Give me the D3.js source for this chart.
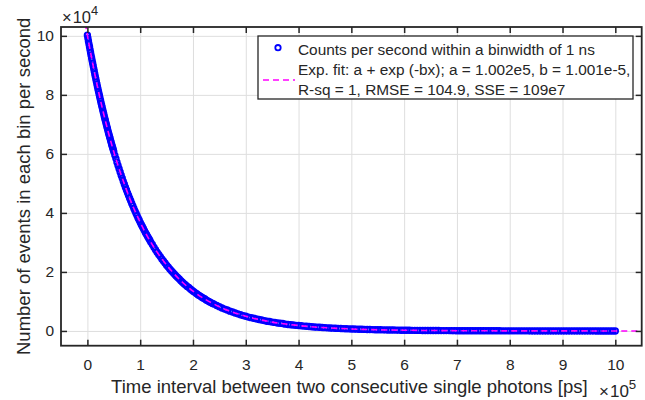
<!DOCTYPE html>
<html>
<head>
<meta charset="utf-8">
<script src="https://cdn.jsdelivr.net/npm/d3@7"></script>
<style>
  body { margin: 0; background: #fff; }
  svg text { font-family: "Liberation Sans", Arial, Helvetica, sans-serif; fill: #262626; }
</style>
</head>
<body>
<svg id="chart" width="645" height="400"></svg>
<script>
/* global d3 */
// measured counts, sampled off the picture (t in 1e5 ps, counts in 1e4 / s)
// each segment: first sample time, spacing between samples, values
const segStart = [0, 0.52, 1.23, 2.45]
const segStep = [0.01, 0.02, 0.03, 0.05]

const countsA = [10.02, 9.92, 9.82, 9.72, 9.63, 9.53, 9.44, 9.34, 9.25, 9.16,
  9.07, 8.98, 8.89, 8.80, 8.71, 8.62, 8.54, 8.45, 8.37, 8.28,
  8.20, 8.12, 8.04, 7.96, 7.88, 7.80, 7.72, 7.65, 7.57, 7.50,
  7.42, 7.35, 7.27, 7.20, 7.13, 7.06, 6.99, 6.92, 6.85, 6.78,
  6.71, 6.65, 6.58, 6.52, 6.45, 6.39, 6.32, 6.26, 6.20, 6.14, 6.07]
const countsB = [5.95, 5.84, 5.72, 5.61, 5.50, 5.39, 5.28, 5.18, 5.07, 4.97,
  4.87, 4.78, 4.68, 4.59, 4.50, 4.41, 4.32, 4.24, 4.15, 4.07,
  3.99, 3.91, 3.83, 3.76, 3.68, 3.61, 3.54, 3.47, 3.40, 3.33,
  3.27, 3.20, 3.14, 3.08, 3.01]
const countsC = [2.93, 2.84, 2.75, 2.67, 2.59, 2.52, 2.44, 2.37, 2.30, 2.23,
  2.17, 2.10, 2.04, 1.98, 1.92, 1.86, 1.81, 1.76, 1.70, 1.65,
  1.60, 1.56, 1.51, 1.47, 1.42, 1.38, 1.34, 1.30, 1.26, 1.22,
  1.19, 1.15, 1.12, 1.09, 1.05, 1.02, 0.99, 0.96, 0.93, 0.91]
const countsD = [0.86, 0.82, 0.78, 0.74, 0.71, 0.67, 0.64, 0.61, 0.58, 0.55, 0.52,
  0.50, 0.47, 0.45, 0.43, 0.41, 0.39, 0.37, 0.35, 0.33, 0.32,
  0.30, 0.29, 0.27, 0.26, 0.25, 0.23, 0.22, 0.21, 0.20, 0.19,
  0.183, 0.174, 0.165, 0.157, 0.150, 0.142, 0.135, 0.129, 0.123, 0.117,
  0.111, 0.105, 0.100, 0.095, 0.091, 0.086, 0.082, 0.078, 0.074, 0.071,
  0.067, 0.064, 0.061, 0.058, 0.055, 0.052, 0.050, 0.047, 0.045, 0.043,
  0.041, 0.039, 0.037, 0.035, 0.033, 0.032, 0.030, 0.029, 0.027, 0.026,
  0.025, 0.023, 0.022, 0.021, 0.020, 0.019, 0.018, 0.017, 0.017, 0.016,
  0.015, 0.014, 0.014, 0.013, 0.012, 0.012, 0.011, 0.011, 0.010, 0.010,
  0.0091, 0.0087, 0.0082, 0.0078, 0.0075, 0.0071, 0.0067, 0.0064, 0.0061, 0.0058,
  0.0055, 0.0052, 0.0050, 0.0047, 0.0045, 0.0043, 0.0041, 0.0039, 0.0037, 0.0035,
  0.0033, 0.0032, 0.0030, 0.0029, 0.0027, 0.0026, 0.0025, 0.0024, 0.0022, 0.0021,
  0.0020, 0.0019, 0.0018, 0.0017, 0.0017, 0.0016, 0.0015, 0.0014, 0.0014, 0.0013,
  0.0012, 0.0012, 0.0011, 0.0010, 0.0010, 0.0009, 0.0009, 0.0009, 0.0008, 0.0008,
  0.0007, 0.0007, 0.0007, 0.0006, 0.0006, 0.0006, 0.0005, 0.0005, 0.0005, 0.0005, 0.0004]
const segCounts = [countsA, countsB, countsC, countsD]

// exponential fit curve, read at a few times (runs past the axes, gets clipped)
const fitTimes = [-0.04, 0, 0.1, 0.2, 0.3, 0.4, 0.5, 0.6, 0.8, 1.0, 1.2, 1.4, 1.6, 1.8,
  2.0, 2.5, 3.0, 3.5, 4.0, 5.0, 6.0, 7.0, 8.0, 9.0, 10.0, 10.5]
const fitCounts = [10.43, 10.02, 9.07, 8.20, 7.42, 6.71, 6.07, 5.50, 4.50, 3.68, 3.01, 2.47, 2.02, 1.65,
  1.35, 0.82, 0.50, 0.30, 0.183, 0.067, 0.025, 0.009, 0.003, 0.0012, 0.0004, 0.0003]

const xTicks = [0, 1, 2, 3, 4, 5, 6, 7, 8, 9, 10]
const yTicks = [0, 2, 4, 6, 8, 10]

const legendLabels = [
  'Counts per second within a binwidth of 1 ns',
  'Exp. fit: a + exp (-bx); a = 1.002e5, b = 1.001e-5,',
  'R-sq = 1, RMSE = 104.9, SSE = 109e7'
]

const points = []
segStart.forEach((s, k) => {
  segCounts[k].forEach((c, i) => points.push({ t: s + i * segStep[k], c }))
})
const fitData = fitTimes.map((t, i) => ({ t, c: fitCounts[i] }))

const axisColor = '#262626'
const margin = { top: 27, right: 3.3, bottom: 54.3, left: 61 }
const W = 645
const H = 400
const width = W - margin.left - margin.right
const height = H - margin.top - margin.bottom

const x = d3.scaleLinear().domain([-0.5, 10.5]).range([0, width])
const y = d3.scaleLinear().domain([-0.5, 10.3]).range([height, 0])

const svg = d3.select('#chart')
const g = svg.append('g').attr('transform', `translate(${margin.left},${margin.top})`)

g.append('clipPath').attr('id', 'clip')
  .append('rect').attr('width', width).attr('height', height)

// grid
const gridX = g.append('g').attr('class', 'grid')
  .attr('transform', `translate(0,${height})`)
  .call(d3.axisBottom(x).tickValues(xTicks).tickSize(-height).tickFormat(''))
const gridY = g.append('g').attr('class', 'grid')
  .call(d3.axisLeft(y).tickValues(yTicks).tickSize(-width).tickFormat(''))
;[gridX, gridY].forEach(a => {
  a.select('.domain').remove()
  a.selectAll('line').attr('stroke', '#dedede').attr('stroke-width', 1)
})

// data markers
g.append('g').attr('clip-path', 'url(#clip)')
  .selectAll('circle')
  .data(points)
  .enter().append('circle')
  .attr('cx', d => x(d.t))
  .attr('cy', d => y(d.c))
  .attr('r', 2.7)
  .attr('fill', 'none')
  .attr('stroke', '#0000ff')
  .attr('stroke-width', 2)

// fit
const fitLine = d3.line()
  .x(d => x(d.t))
  .y(d => y(d.c))
  .curve(d3.curveMonotoneX)

g.append('path')
  .datum(fitData)
  .attr('clip-path', 'url(#clip)')
  .attr('d', fitLine)
  .attr('fill', 'none')
  .attr('stroke', '#ff00ff')
  .attr('stroke-width', 1.6)
  .attr('stroke-dasharray', '6,4')

// axes, ticks pointing inwards
const styleAxis = (a) => {
  a.select('.domain').remove()
  a.selectAll('line').attr('stroke', axisColor).attr('stroke-width', 1.5)
  a.selectAll('text').attr('font-size', '15.5px').attr('fill', axisColor)
}

g.append('g')
  .attr('transform', `translate(0,${height})`)
  .call(d3.axisBottom(x).tickValues(xTicks).tickSize(-6).tickPadding(13.3).tickSizeOuter(0))
  .call(styleAxis)
g.append('g')
  .call(d3.axisTop(x).tickValues(xTicks).tickSize(-6).tickFormat('').tickSizeOuter(0))
  .call(styleAxis)
g.append('g')
  .call(d3.axisLeft(y).tickValues(yTicks).tickSize(-6).tickPadding(7).tickSizeOuter(0))
  .call(styleAxis)
g.append('g')
  .attr('transform', `translate(${width},0)`)
  .call(d3.axisRight(y).tickValues(yTicks).tickSize(-6).tickFormat('').tickSizeOuter(0))
  .call(styleAxis)

g.append('rect')
  .attr('width', width).attr('height', height)
  .attr('fill', 'none')
  .attr('stroke', axisColor)
  .attr('stroke-width', 1.8)

// axis labels
g.append('text')
  .attr('x', width / 2 - 2)
  .attr('y', height + 47)
  .attr('text-anchor', 'middle')
  .attr('font-size', '18.5px')
  .text('Time interval between two consecutive single photons [ps]')

g.append('text')
  .attr('transform', `translate(${30 - margin.left},${height / 2}) rotate(-90)`)
  .attr('text-anchor', 'middle')
  .attr('font-size', '18.5px')
  .text('Number of events in each bin per second')

// exponent labels
const expLabel = (px, py, e, size) => {
  const t = svg.append('text').attr('x', px).attr('y', py).attr('font-size', size + 'px')
  t.append('tspan').text('\u00d7')
  t.append('tspan').attr('dx', 1).text('10')
  t.append('tspan').attr('font-size', (size * 0.78) + 'px').attr('dy', -8).text(e)
}
expLabel(62, 23, '4', 16.5)
expLabel(599, 397, '5', 17)

// legend
const leg = svg.append('g')
leg.append('rect')
  .attr('x', 258).attr('y', 36)
  .attr('width', 375).attr('height', 63)
  .attr('fill', '#fff')
  .attr('stroke', axisColor)
  .attr('stroke-width', 1.3)
leg.append('circle')
  .attr('cx', 278).attr('cy', 47.7).attr('r', 2.7)
  .attr('fill', 'none').attr('stroke', '#0000ff').attr('stroke-width', 1.8)
leg.append('line')
  .attr('x1', 263).attr('x2', 295)
  .attr('y1', 80).attr('y2', 80)
  .attr('stroke', '#ff00ff').attr('stroke-width', 1.6)
  .attr('stroke-dasharray', '6,4')
const legBase = [55, 75, 94.5]
leg.selectAll('text.lab')
  .data(legendLabels)
  .enter().append('text')
  .attr('class', 'lab')
  .attr('x', 298)
  .attr('y', (d, i) => legBase[i])
  .attr('font-size', '15.4px')
  .text(d => d)
</script>
</body>
</html>
